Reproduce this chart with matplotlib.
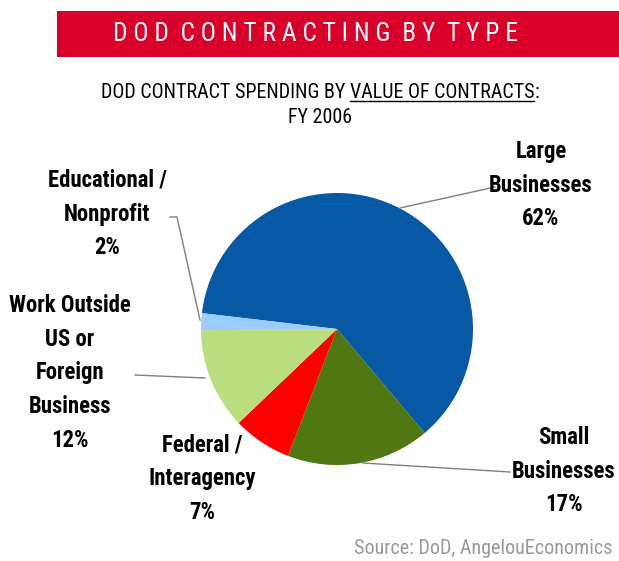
import matplotlib
matplotlib.use("Agg")
import matplotlib.pyplot as plt
from matplotlib import font_manager

# Data
categories = ["Large\nBusinesses", "Small\nBusinesses", "Federal /\nInteragency",
              "Work Outside\nUS or\nForeign\nBusiness", "Educational /\nNonprofit"]
shares = [62, 17, 7, 12, 2]
colors = ["#0758A5", "#4F7812", "#FF0000", "#BBDF80", "#99CCFF"]

title = "DOD CONTRACTING BY TYPE"
subtitle_pre = "DOD CONTRACT SPENDING BY "
subtitle_ul = "VALUE OF CONTRACTS"
subtitle_post = ":"
subtitle_line2 = "FY 2006"
source = "Source: DoD, AngelouEconomics"

# Pick narrow faces: one regular-weight family, one with a bold face
fonts = font_manager.fontManager.ttflist
weights = {}
for f in fonts:
    if "Narrow" in f.name or "Condensed" in f.name:
        w = f.weight if isinstance(f.weight, int) else {"normal": 400, "regular": 400, "bold": 700}.get(str(f.weight), 400)
        weights.setdefault(f.name, set()).add(w)
preferred = ["Liberation Sans Narrow", "Arial Narrow", "Roboto Condensed",
             "Open Sans Condensed", "Noto Sans Condensed"]
ordered = [n for n in preferred if n in weights] + sorted(n for n in weights if n not in preferred)

regular_family = next((n for n in ordered if 400 in weights[n]), ordered[0] if ordered else "Roboto")
bold_family = next((n for n in ordered if any(w >= 600 for w in weights[n])), None)
if bold_family is None:
    bold_family = next((n for n in ordered if "Bold" in n), "Roboto")

W, H = 619, 561
fig = plt.figure(figsize=(W / 100, H / 100), dpi=100)
ax = fig.add_axes([0, 0, 1, 1])
ax.set_xlim(0, W)
ax.set_ylim(0, H)
ax.set_aspect("equal")
ax.axis("off")

def Y(y):
    return H - y

reg = dict(family=regular_family)
bold = dict(family=bold_family, fontweight="bold")

# Banner
ax.add_patch(plt.Rectangle((57, Y(57)), W - 57, 46, color="#D9002A", lw=0))
ax.text(315, Y(34), "  ".join(" ".join(w) for w in title.split()), color="white",
        fontsize=18.3, ha="center", va="center", **reg)

# Subtitle with underlined segment
fig.canvas.draw()
r = fig.canvas.get_renderer()
fs_sub = 14.4
def width(s):
    t = ax.text(0, 0, s, fontsize=fs_sub, **reg)
    bb = t.get_window_extent(r)
    t.remove()
    return bb.width
w_pre, w_ul, w_post = width(subtitle_pre), width(subtitle_ul), width(subtitle_post)
total = w_pre + w_ul + w_post
x0 = 320 - total / 2
ys = Y(92)
ax.text(x0, ys, subtitle_pre, fontsize=fs_sub, ha="left", va="center", **reg)
ax.text(x0 + w_pre, ys, subtitle_ul, fontsize=fs_sub, ha="left", va="center", **reg)
ax.text(x0 + w_pre + w_ul, ys, subtitle_post, fontsize=fs_sub, ha="left", va="center", **reg)
ax.plot([x0 + w_pre, x0 + w_pre + w_ul], [Y(101), Y(101)], color="black", lw=1)
ax.text(320, Y(117), subtitle_line2, fontsize=fs_sub, ha="center", va="center", **reg)

# Pie
cx, cy, rad = 337, Y(329), 136
ax.pie(shares, colors=colors, startangle=173.3, counterclock=False,
       center=(cx, cy), radius=rad, frame=True,
       wedgeprops=dict(linewidth=0))
ax.set_xlim(0, W)
ax.set_ylim(0, H)
ax.axis("off")

# Labels and leader lines
label_pos = [(541, 185), (564, 471), (202, 479), (70, 373), (107, 214)]
leaders = [
    [(400, 208), (495, 187)],
    [(363, 463), (510, 472)],
    None,
    [(135, 375), (205, 378)],
    [(170, 217), (177, 217), (200, 320)],
]
for name, val, (lx, ly), ld in zip(categories, shares, label_pos, leaders):
    ax.text(lx, Y(ly), f"{name}\n{val}%", fontsize=16.4, ha="center", va="center",
            linespacing=1.59, **bold)
    if ld:
        ax.plot([p[0] for p in ld], [Y(p[1]) for p in ld], color="#7F7F7F", lw=1)

ax.text(612, Y(548), source, fontsize=14.5, color="#999999",
        ha="right", va="center", **reg)

fig.savefig("out.png", dpi=100)
